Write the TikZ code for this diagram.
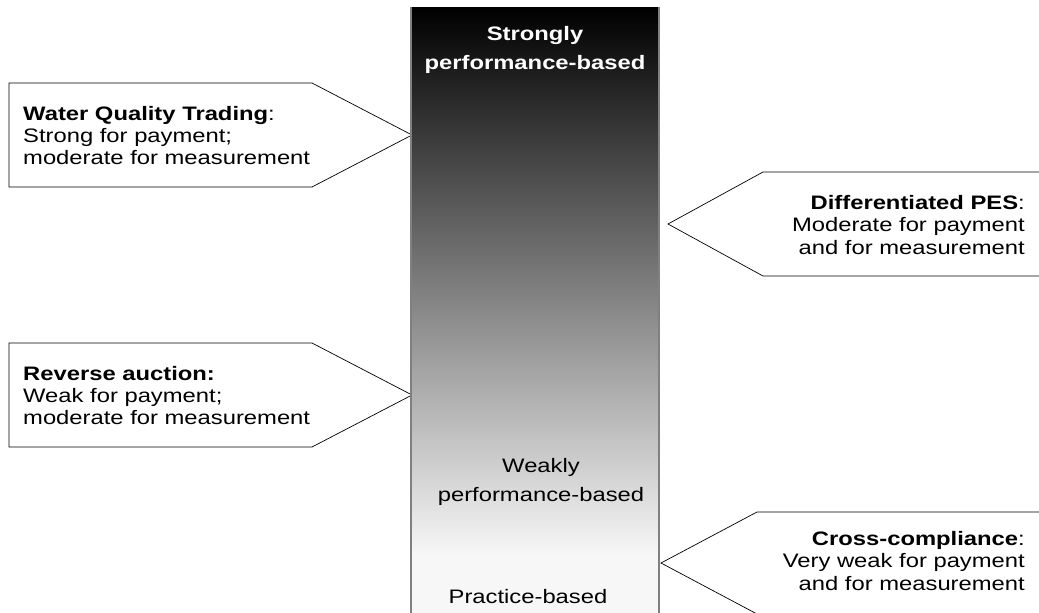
\documentclass[tikz,border=0pt]{standalone}
\usepackage{fontspec}
\setmainfont{Liberation Sans}[FakeStretch=1.22]
\definecolor{barframe}{RGB}{128, 128, 128}
\definecolor{barlight}{RGB}{247, 247, 247}
\definecolor{calloutline}{RGB}{0, 0, 0}
\usepackage{tikz}
\usetikzlibrary{positioning}

\begin{document}
\begin{tikzpicture}[x=1pt, y=-1pt,
  calltext/.style={inner sep=0pt, font=\fontsize{19.5}{22.4}\selectfont},
  bartext/.style={inner sep=0pt, align=center, font=\fontsize{19.5}{29}\selectfont},
  callout/.style={draw=calloutline, line width=0.7pt, fill=white}]
  \useasboundingbox (0, 0) rectangle (1039, 613);
  \clip (0, 0) rectangle (1039, 613);

  % Callouts on the left
  \draw[callout] (9, 83) -- (312, 83) -- (412, 135) -- (312, 187) -- (9, 187) -- cycle;
  \draw[callout] (9, 343) -- (312, 343) -- (412, 395) -- (312, 447) -- (9, 447) -- cycle;

  % Callouts on the right
  \draw[callout] (1050, 172) -- (763, 172) -- (668, 224) -- (763, 276) -- (1050, 276);
  \draw[callout] (1050, 512) -- (757, 512) -- (661, 563) -- (757, 614) -- (1050, 614);

  % Gradient bar
  \shade[top color=black, middle color=black!40, bottom color=barlight] (411, 7) rectangle (659, 555);
  \fill[barlight] (411, 554) rectangle (659, 620);
  \draw[barframe, line width=2pt] (411, 620) -- (411, 7);
  \draw[barframe, line width=2pt] (659, 620) -- (659, 7);

  % Bar labels
  \node[bartext, text=white, font=\fontsize{19.5}{29}\selectfont\bfseries] (strongly) at (535, 49.5) {Strongly\\performance-based};
  \node[bartext] (weakly) at (541, 481.5) {Weakly\\performance-based};
  \node[bartext] (practice) at (528, 597) {Practice-based};

  % Callout texts
  \node[calltext, anchor=west, align=left] (wqt) at (23, 135.5) {\textbf{Water Quality Trading}:\\Strong for payment;\\moderate for measurement};
  \node[calltext, anchor=west, align=left] (auction) at (23, 395.5) {\textbf{Reverse auction:}\\Weak for payment;\\moderate for measurement};
  \node[calltext, anchor=east, align=right] (diffpes) at (1025, 225) {\textbf{Differentiated PES}:\\Moderate for payment\\and for measurement};
  \node[calltext, anchor=east, align=right] (crosscomp) at (1025, 561) {\textbf{Cross-compliance}:\\Very weak for payment\\and for measurement};
\end{tikzpicture}
\end{document}
